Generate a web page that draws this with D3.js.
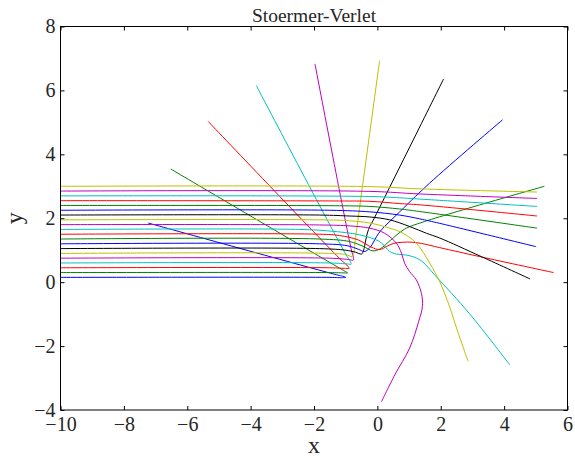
<!DOCTYPE html>
<html>
<head>
<meta charset="utf-8">
<script src="https://cdn.jsdelivr.net/npm/d3@7"></script>
<style>
  body { margin: 0; background: #fff; }
  text { font-family: "Liberation Serif", "DejaVu Serif", serif; fill: #262626; }
</style>
</head>
<body>
<svg id="chart" width="575" height="457"></svg>
<script>
// trajectories, one per starting height (x, y)
var t0 = [[-10,0.15],[-1.5,0.15],[-1.1,0.14],[-1.0,0.15],[-1.08,0.18],[-1.4,0.26],[-7.23,1.85]];
var t1 = [[-10,0.3],[-1.5,0.3],[-1.05,0.29],[-0.94,0.29],[-1.0,0.33],[-1.3,0.5],[-6.52,3.54]];
var t2 = [[-10,0.45],[-1.5,0.45],[-1.0,0.43],[-0.89,0.43],[-0.93,0.5],[-1.15,0.7],[-5.34,5.03]];
var t3 = [[-10,0.6],[-1.5,0.6],[-0.95,0.57],[-0.83,0.56],[-0.85,0.64],[-1.0,0.88],[-3.82,6.15]];
var t4 = [[-10,0.75],[-1.5,0.75],[-0.92,0.71],[-0.76,0.69],[-0.76,0.78],[-0.83,1.05],[-1.97,6.83]];
var t5 = [[-10,0.9],[-1.5,0.9],[-0.98,0.86],[-0.8,0.8],[-0.75,0.9],[-0.70,1.3],[0.07,6.93]];
var t6 = [[-10,1.05],[-1.82,1.05],[-1.0,1.0],[-0.7,0.94],[-0.5,0.88],[-0.44,0.98],[-0.36,1.35],[-0.28,1.65],[-0.1,2.0],[2.09,6.36]];
var t7 = [[-10,1.2],[-1.82,1.2],[-0.95,1.14],[-0.6,1.03],[-0.4,0.96],[-0.22,1.1],[-0.03,1.42],[0.13,1.64],[0.6,2.1],[1.65,3.1],[3.95,5.08]];
var t8 = [[-10,1.35],[-1.82,1.35],[-0.87,1.27],[-0.45,1.12],[-0.14,0.98],[0.1,1.05],[0.4,1.3],[0.86,1.66],[1.34,1.85],[5.27,3.0]];
var t9 = [[-10,1.5],[-1.82,1.5],[-1.2,1.46],[-0.6,1.32],[-0.2,1.1],[0.07,1.02],[0.3,1.12],[0.5,1.21],[0.8,1.25],[1.1,1.25],[1.4,1.21],[1.97,1.08],[3.23,0.8],[5.56,0.3]];
var t10 = [[-10,1.65],[-2.45,1.65],[-1.5,1.6],[-0.56,1.48],[0.07,1.27],[0.39,0.96],[0.6,0.88],[0.91,0.85],[1.34,0.7],[1.86,0.17],[2.91,-0.99],[4.18,-2.59]];
var t11 = [[-10,1.8],[-1.82,1.79],[-0.87,1.76],[-0.24,1.69],[0.23,1.53],[0.6,1.22],[0.76,0.91],[0.86,0.59],[1.02,0.33],[1.23,0.07],[1.39,-0.35],[1.42,-0.77],[1.3,-1.24],[1.02,-2.06],[0.55,-2.9],[0.13,-3.74]];
var t12 = [[-10,1.95],[-1.82,1.95],[-0.87,1.92],[-0.24,1.85],[0.39,1.69],[0.81,1.53],[1.23,1.22],[1.65,0.6],[1.97,0.01],[2.28,-0.77],[2.51,-1.47],[2.86,-2.47]];
var t13 = [[-10,2.1],[-1.82,2.1],[-0.87,2.07],[-0.24,2.04],[0.39,1.95],[1.02,1.74],[1.55,1.53],[1.97,1.38],[3.28,0.8],[4.82,0.1]];
var t14 = [[-10,2.25],[-1.5,2.25],[-0.24,2.2],[0.7,2.1],[1.34,1.98],[1.97,1.84],[5.01,1.11]];
var t15 = [[-10,2.4],[-1.19,2.39],[-0.24,2.37],[0.7,2.29],[1.34,2.21],[5.04,1.69]];
var t16 = [[-10,2.55],[-1.19,2.54],[-0.24,2.53],[0.7,2.46],[1.34,2.42],[5.04,2.07]];
var t17 = [[-10,2.7],[-0.24,2.68],[0.7,2.64],[1.34,2.6],[5.04,2.37]];
var t18 = [[-10,2.85],[-0.24,2.84],[1.34,2.76],[5.04,2.62]];
var t19 = [[-10,3.0],[-0.24,2.99],[1.34,2.92],[5.04,2.82]];

var trajectories = [t0,t1,t2,t3,t4,t5,t6,t7,t8,t9,t10,t11,t12,t13,t14,t15,t16,t17,t18,t19];
var colors = ["#0000ff","#008000","#ff0000","#00bfbf","#bf00bf","#bfbf00","#000000"];
var xTicks = [-10,-8,-6,-4,-2,0,2,4,6];
var yTicks = [-4,-2,0,2,4,6,8];
var title = "Stoermer-Verlet";

/* layout */
var margin = {left: 60.5, top: 26.5, right: 7.5, bottom: 47},
    width = 575 - margin.left - margin.right,
    height = 457 - margin.top - margin.bottom;

var svg = d3.select("#chart");
var g = svg.append("g").attr("transform", "translate(" + margin.left + "," + margin.top + ")");

var x = d3.scaleLinear().domain([-10, 6]).range([0, width]);
var y = d3.scaleLinear().domain([-4, 8]).range([height, 0]);

var fmt = function(d){ return d < 0 ? "\u2212" + Math.abs(d) : "" + d; };

// axes, ticks pointing inward
g.append("g")
  .attr("transform", "translate(0," + height + ")")
  .call(d3.axisBottom(x).tickValues(xTicks).tickSize(-4).tickSizeOuter(0).tickPadding(7).tickFormat(fmt))
  .call(function(a){ a.select(".domain").remove(); a.selectAll("text").style("font-size", "20px"); });

g.append("g")
  .call(d3.axisLeft(y).tickValues(yTicks).tickSize(-4).tickSizeOuter(0).tickPadding(5).tickFormat(fmt))
  .call(function(a){ a.select(".domain").remove(); a.selectAll("text").style("font-size", "20px"); });

g.append("g")
  .call(d3.axisTop(x).tickValues(xTicks).tickSize(-4).tickSizeOuter(0).tickFormat(""))
  .call(function(a){ a.select(".domain").remove(); });

g.append("g")
  .attr("transform", "translate(" + width + ",0)")
  .call(d3.axisRight(y).tickValues(yTicks).tickSize(-4).tickSizeOuter(0).tickFormat(""))
  .call(function(a){ a.select(".domain").remove(); });

g.selectAll(".tick line").attr("stroke", "#000");

// trajectories
g.append("clipPath").attr("id", "clip")
  .append("rect").attr("width", width).attr("height", height);

var line = d3.line()
  .x(function(d){ return x(d[0]); })
  .y(function(d){ return y(d[1]); })
  .curve(d3.curveCatmullRom.alpha(0.5));

g.append("g").attr("clip-path", "url(#clip)")
  .selectAll("path")
  .data(trajectories)
  .enter().append("path")
  .attr("d", line)
  .attr("fill", "none")
  .attr("stroke-width", 1)
  .attr("stroke", function(d, i){ return colors[i % colors.length]; });

// frame
g.append("rect")
  .attr("width", width).attr("height", height)
  .attr("fill", "none").attr("stroke", "#000").attr("stroke-width", 1);

// labels
svg.append("text")
  .attr("x", margin.left + width / 2).attr("y", 22)
  .attr("text-anchor", "middle").style("font-size", "19.5px")
  .text(title);

svg.append("text")
  .attr("x", margin.left + width / 2).attr("y", 453)
  .attr("text-anchor", "middle").style("font-size", "24px")
  .text("x");

svg.append("text")
  .attr("transform", "translate(22," + (margin.top + height / 2) + ") rotate(-90)")
  .attr("text-anchor", "middle").style("font-size", "24px")
  .text("y");
</script>
</body>
</html>
